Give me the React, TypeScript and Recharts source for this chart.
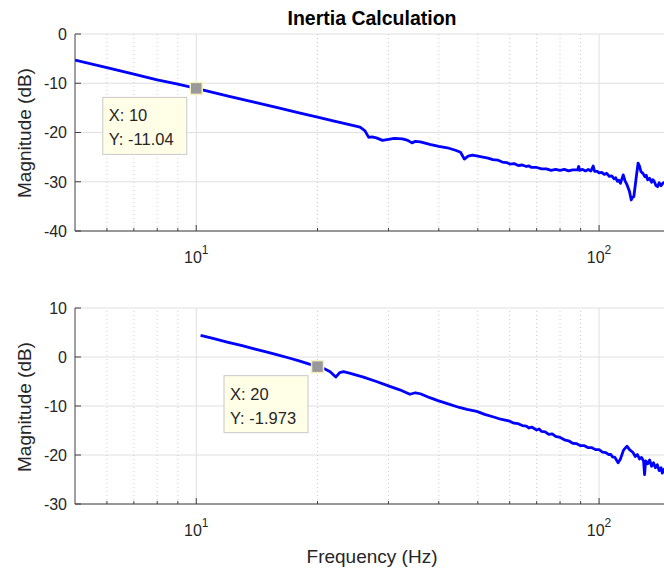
import React from "react";
import { LineChart, Line, XAxis, YAxis, CartesianGrid, ReferenceLine, ReferenceDot } from "recharts";

// top subplot: inertia measurement
const topFreq = [5, 6, 7, 8, 9, 10, 12, 14, 16, 18, 20, 22, 24, 25.5, 26.2, 26.8, 27.3, 28, 29, 30, 31, 32.5, 33.5, 34.3, 35, 36, 38, 40, 42, 44, 45.3, 46.3, 47.3, 48.5, 50, 53, 54.5, 56, 57.5, 59, 60, 61.5, 63, 64.5, 66, 67, 68, 70, 72, 74, 76, 78, 80, 82, 84, 86, 88.5, 89, 89.5, 91, 92.5, 94, 95.5, 96.7, 97.5, 99, 100, 101.5, 103, 104.5, 106, 107.5, 109, 110, 111, 112, 113, 114.8, 116, 117.3, 119, 120.2, 121, 122, 123.5, 125, 126, 127, 128.5, 130, 131, 132, 133.5, 135, 136, 137, 138.5, 139.7, 141, 142.5, 144, 146, 148, 150];
const topMag = [-5.3, -6.84, -8.15, -9.3, -10.2, -11.04, -12.6, -13.9, -15.0, -16.0, -16.9, -17.7, -18.4, -18.9, -19.6, -21.0, -20.9, -21.1, -21.6, -21.4, -21.2, -21.3, -21.6, -22.1, -21.8, -21.9, -22.4, -22.8, -23.1, -23.6, -24.0, -25.4, -24.8, -24.6, -24.8, -25.2, -25.5, -25.6, -26.0, -26.1, -26.4, -26.3, -26.7, -26.6, -26.9, -26.8, -27.1, -27.1, -27.4, -27.4, -27.7, -27.5, -27.7, -27.5, -27.8, -27.6, -27.6, -26.9, -27.7, -27.5, -27.8, -27.5, -27.8, -26.8, -27.9, -27.9, -28.2, -28.1, -28.5, -28.3, -28.9, -28.8, -29.4, -29.2, -29.9, -29.7, -30.3, -28.6, -29.8, -30.6, -32.0, -33.7, -33.2, -33.0, -29.5, -26.2, -26.8, -27.9, -28.3, -29.0, -28.7, -29.6, -29.3, -30.1, -29.6, -29.9, -30.8, -31.0, -30.2, -30.8, -30.3, -30.0, -30.5, -30.3];

// bottom subplot
const botFreq = [10.25, 11, 12, 13, 14, 15, 16, 17, 18, 19, 20, 20.8, 21.5, 22.2, 22.7, 23.2, 24, 26, 28, 30, 32, 33.9, 35, 36, 38, 39.8, 42, 45, 47, 49.7, 52, 55, 57, 60, 61.5, 63, 64.5, 66, 67, 68, 70, 71, 72, 73.5, 75, 76.5, 78, 80, 82, 84, 86, 88, 90, 92, 94, 96, 98, 100, 102, 104, 105.5, 107, 108, 109.5, 111.5, 113, 115, 117.3, 119, 121.4, 123, 124.5, 126, 127.5, 129, 129.7, 130.5, 132, 133.5, 135, 136.5, 138, 139.5, 141, 142.5, 143.5, 145, 147, 150];
const botMag = [4.4, 3.8, 3.0, 2.3, 1.6, 1.0, 0.4, -0.2, -0.8, -1.4, -1.973, -2.4, -3.0, -4.1, -3.2, -3.0, -3.3, -4.1, -5.0, -5.9, -6.7, -7.6, -7.3, -7.5, -8.3, -8.9, -9.5, -10.3, -10.7, -11.1, -11.7, -12.3, -12.7, -13.1, -13.5, -13.6, -14.0, -14.1, -14.5, -14.3, -14.9, -14.7, -15.2, -15.3, -15.8, -15.7, -16.2, -16.4, -16.9, -17.1, -17.6, -17.7, -18.1, -18.1, -18.5, -18.5, -18.9, -18.9, -19.4, -19.5, -19.9, -19.9, -20.4, -20.5, -21.6, -20.8, -19.0, -18.2, -18.9, -19.5, -20.3, -19.9, -20.8, -20.5, -21.3, -24.0, -21.2, -21.8, -21.0, -22.3, -21.6, -22.6, -22.0, -23.2, -22.6, -23.7, -22.9, -23.6, -23.3];

const xDomain = [5, 150];
const majorXTicks = [10, 100];
const minorXTicks = [6, 7, 8, 9, 20, 30, 40, 50, 60, 70, 80, 90];
const allXTicks = [6, 7, 8, 9, 10, 20, 30, 40, 50, 60, 70, 80, 90, 100];
const topYTicks = [-40, -30, -20, -10, 0];
const botYTicks = [-30, -20, -10, 0, 10];
const topTip = [10, -11.04];
const botTip = [20, -1.973];

const topData = topFreq.map((f, i) => ({ f, mag: topMag[i] }));
const botData = botFreq.map((f, i) => ({ f, mag: botMag[i] }));

const FONT = '"Liberation Sans", Arial, Helvetica, sans-serif';
const AX = "#404040";
const TXT = "#262626";

const XTick = ({ x, y, payload, top }: any) => {
  const v = payload.value;
  const major = majorXTicks.includes(v);
  const len = major ? 6 : 3;
  return (
    <g>
      <line x1={x} x2={x} y1={y} y2={top ? y + len : y - len} stroke={AX} />
      {!top && major && (
        <text x={x} y={y + 32} textAnchor="middle" fill={TXT} fontSize={16} fontFamily={FONT}>
          <tspan>10</tspan>
          <tspan dy={-9} fontSize={12}>{Math.round(Math.log10(v))}</tspan>
        </text>
      )}
    </g>
  );
};

const YTick = ({ x, y, payload }: any) => (
  <g>
    <line x1={x} x2={x + 6} y1={y} y2={y} stroke={AX} />
    <text x={x - 8} y={y} dy="0.36em" textAnchor="end" fill={TXT} fontSize={16} fontFamily={FONT}>
      {payload.value}
    </text>
  </g>
);

const tipShape = (tip: number[]) => (props: any) => {
  const { cx, cy } = props;
  const bx = cx - 93.5;
  const by = cy + 9;
  return (
    <g>
      <rect x={bx} y={by} width={84} height={57} fill="#ffffe8" stroke="#c8c8c8" />
      <text x={bx + 6} y={by + 24} fontSize={16.5} fill={TXT} fontFamily={FONT}>X: {tip[0]}</text>
      <text x={bx + 6} y={by + 48} fontSize={16.5} fill={TXT} fontFamily={FONT}>Y: {tip[1]}</text>
      <rect x={cx - 6} y={cy - 6} width={12} height={12} fill="#999999" stroke="#f5f0c0" strokeWidth={1.5} />
    </g>
  );
};

function Panel({ data, yDomain, yTicks, tip, height, marginTop, xAxisHeight }: any) {
  return (
    <LineChart width={670} height={height} data={data} margin={{ top: marginTop, right: 0, bottom: 0, left: 0 }}>
      <CartesianGrid vertical={false} stroke="#e0e0e0" />
      {minorXTicks.map(v => (
        <ReferenceLine key={"m" + v} x={v} stroke="#cccccc" strokeDasharray="1 3" />
      ))}
      {majorXTicks.map(v => (
        <ReferenceLine key={"M" + v} x={v} stroke="#e0e0e0" />
      ))}
      <XAxis dataKey="f" type="number" scale="log" domain={xDomain} allowDataOverflow ticks={allXTicks}
        interval={0} height={xAxisHeight} tickSize={0} tickMargin={0} tickLine={false}
        axisLine={{ stroke: AX }} tick={<XTick />} />
      <XAxis xAxisId="top" orientation="top" dataKey="f" type="number" scale="log" domain={xDomain}
        allowDataOverflow ticks={allXTicks} interval={0} height={0} tickSize={0} tickMargin={0}
        tickLine={false} axisLine={{ stroke: AX }} tick={<XTick top />} />
      <YAxis type="number" domain={yDomain} ticks={yTicks} interval={0} width={75} tickSize={0}
        tickMargin={0} tickLine={false} axisLine={{ stroke: AX }} tick={<YTick />} />
      <Line type="linear" dataKey="mag" stroke="#0000ff" strokeWidth={2.8} dot={false}
        strokeLinejoin="round" isAnimationActive={false} />
      <ReferenceDot x={tip[0]} y={tip[1]} r={6} shape={tipShape(tip)} />
    </LineChart>
  );
}

export default function App() {
  return (
    <div style={{ position: "absolute", left: 0, top: 0, width: 664, height: 571, overflow: "hidden", background: "#fff" }}>
      <div style={{ position: "absolute", left: 0, top: 0 }}>
        <Panel data={topData} yDomain={[-40, 0]} yTicks={topYTicks} tip={topTip} height={290} marginTop={34} xAxisHeight={59} />
      </div>
      <div style={{ position: "absolute", left: 0, top: 290 }}>
        <Panel data={botData} yDomain={[-30, 10]} yTicks={botYTicks} tip={botTip} height={281} marginTop={18} xAxisHeight={67} />
      </div>
      <svg width={664} height={571} style={{ position: "absolute", left: 0, top: 0, pointerEvents: "none" }}>
        <text x={372} y={25} textAnchor="middle" fontSize={19.5} fontWeight="bold" fill="#000" fontFamily={FONT}>
          Inertia Calculation
        </text>
        <text transform="translate(30.5,133) rotate(-90)" textAnchor="middle" fontSize={19} fill={TXT} fontFamily={FONT}>
          Magnitude (dB)
        </text>
        <text transform="translate(30.5,407) rotate(-90)" textAnchor="middle" fontSize={19} fill={TXT} fontFamily={FONT}>
          Magnitude (dB)
        </text>
        <text x={372} y={563} textAnchor="middle" fontSize={19} fill={TXT} fontFamily={FONT}>
          Frequency (Hz)
        </text>
      </svg>
    </div>
  );
}
